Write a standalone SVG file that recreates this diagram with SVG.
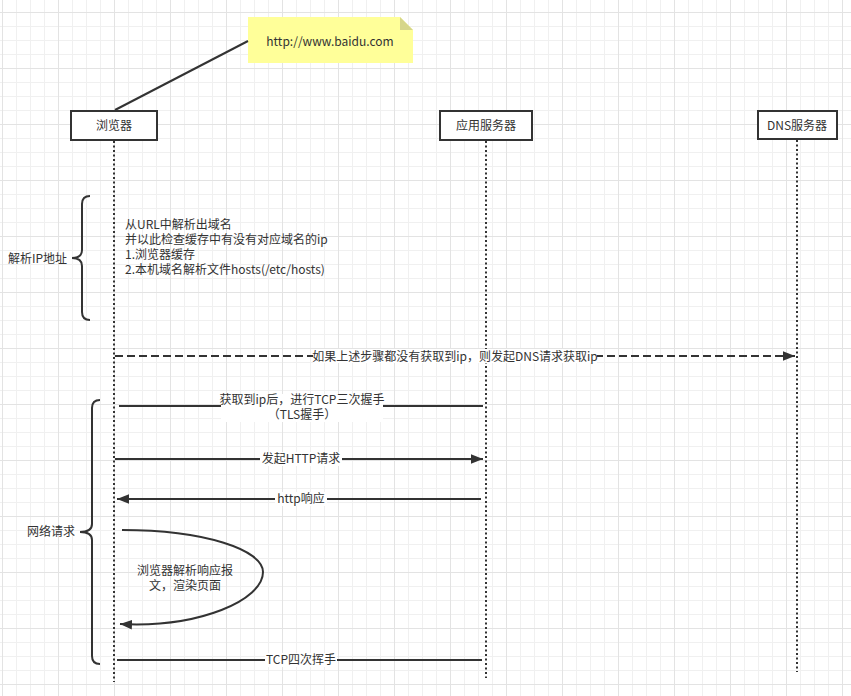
<svg xmlns="http://www.w3.org/2000/svg" width="851" height="696" viewBox="0 0 851 696">
<defs>
<pattern id="grid" patternUnits="userSpaceOnUse" x="2" y="12" width="56" height="56">
<path d="M14.5 0V56M28.5 0V56M42.5 0V56M0 14.5H56M0 28.5H56M0 42.5H56" stroke="#f0f0f0" stroke-width="1" fill="none"/>
<path d="M0.5 0V56M0 0.5H56" stroke="#e3e3e3" stroke-width="1" fill="none"/>
</pattern>
<marker id="arr2" viewBox="0 0 10 10" refX="10" refY="5" markerWidth="12" markerHeight="12" markerUnits="userSpaceOnUse" orient="auto">
<path d="M0 1L10 5L0 9Z" fill="#333"/>
</marker>
</defs>
<style>
text{font-family:"Noto Sans CJK SC","Noto Sans",sans-serif;font-size:12px;fill:#333}
.c{text-anchor:middle}
.box{fill:#fff;stroke:#333;stroke-width:2}
.life{stroke:#333;stroke-width:2;stroke-dasharray:2 2.5;fill:none}
.ln{stroke:#333;stroke-width:2;fill:none}
.bg{fill:#fff}
</style>
<rect width="851" height="696" fill="#fff"/>
<rect width="851" height="696" fill="url(#grid)"/>

<g id="lifelines">
<line class="life" x1="114" y1="141" x2="114" y2="682"/>
<line class="life" x1="486" y1="141" x2="486" y2="678"/>
<line class="life" x1="797" y1="140" x2="797" y2="672"/>
</g>

<g id="note">
<path d="M248 17H400L413 30V63H248Z" fill="#ffff99"/>
<path d="M400 17V30H413Z" fill="#d6d68a"/>
<text class="c" x="330" y="46">http://www.baidu.com</text>
</g>

<g id="connectors">
<line class="ln" x1="115" y1="110" x2="248" y2="41"/>
<line class="ln" x1="115" y1="356" x2="795" y2="356" stroke-dasharray="8 4" marker-end="url(#arr2)"/>
<line class="ln" x1="119" y1="406" x2="483" y2="406"/>
<line class="ln" x1="115" y1="459" x2="483" y2="459" marker-end="url(#arr2)"/>
<line class="ln" x1="481" y1="499" x2="117" y2="499" marker-end="url(#arr2)"/>
<path class="ln" d="M122 530C205 530 263 550 263 572C263 600 200 628 120 624" marker-end="url(#arr2)"/>
<line class="ln" x1="117" y1="660" x2="482" y2="660"/>
</g>

<g id="labels">
<rect class="bg" x="313" y="349" width="284" height="14"/>
<text class="c" x="455" y="361">如果上述步骤都没有获取到ip，则发起DNS请求获取ip</text>
<rect class="bg" x="221" y="394" width="162" height="28"/>
<text class="c" x="302" y="404">获取到ip后，进行TCP三次握手<tspan x="302" dy="15">（TLS握手）</tspan></text>
<rect class="bg" x="260" y="452" width="82" height="14"/>
<text class="c" x="301" y="463">发起HTTP请求</text>
<rect class="bg" x="275" y="492" width="52" height="14"/>
<text class="c" x="301" y="503">http响应</text>
<text class="c" x="185" y="575">浏览器解析响应报<tspan x="185" dy="15">文，渲染页面</tspan></text>
<rect class="bg" x="265" y="653" width="72" height="14"/>
<text class="c" x="301" y="664">TCP四次挥手</text>
</g>

<g id="browser">
<rect class="box" x="71" y="111" width="86" height="29"/>
<text class="c" x="114" y="130">浏览器</text>
</g>
<g id="appserver">
<rect class="box" x="440" y="111" width="92" height="29"/>
<text class="c" x="486" y="130">应用服务器</text>
</g>
<g id="dnsserver">
<rect class="box" x="758" y="111" width="79" height="28"/>
<text class="c" x="797" y="130">DNS服务器</text>
</g>

<g id="brace-ip">
<path class="ln" d="M90 196Q82 196 82 204L82 250Q82 258 72 258Q82 258 82 266L82 312Q82 320 90 320"/>
<text x="8" y="263">解析IP地址</text>
</g>
<g id="resolve-text">
<text x="125" y="229">从URL中解析出域名<tspan x="125" dy="15">并以此检查缓存中有没有对应域名的ip</tspan><tspan x="125" dy="15">1.浏览器缓存</tspan><tspan x="125" dy="15">2.本机域名解析文件hosts(/etc/hosts)</tspan></text>
</g>
<g id="brace-net">
<path class="ln" d="M100 400Q92 400 92 408L92 524Q92 532 80 532Q92 532 92 540L92 656Q92 664 100 664"/>
<text x="27" y="536">网络请求</text>
</g>
</svg>
